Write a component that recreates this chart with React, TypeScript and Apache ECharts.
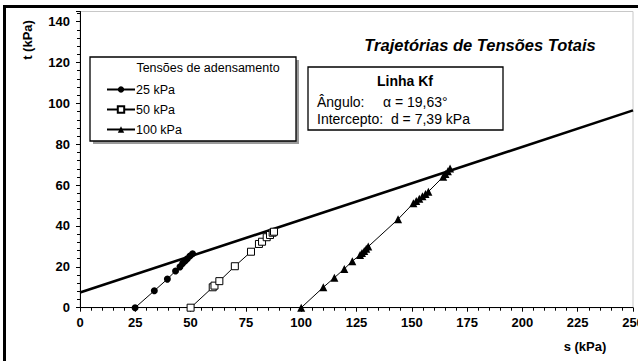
import React, { useEffect, useRef } from "react";
import * as echarts from "echarts";

// s (kPa), t (kPa) for each consolidation stress
const s25 = [24.9, 33.6, 39.5, 43.2, 45.2, 46.4, 47.5, 48.5, 49.7, 50.9];
const t25 = [0, 8.3, 14.0, 18.0, 20.0, 21.7, 22.9, 24.0, 25.3, 26.4];

const s50 = [50, 60.0, 60.8, 63, 70, 77.3, 80.9, 82.3, 84.4, 85.9, 87.1, 87.7];
const t50 = [0, 10.0, 10.8, 13, 20.3, 27.4, 31.2, 32.3, 34.5, 35.6, 36.7, 37.2];

const s100 = [100, 110, 115, 119.5, 123.1, 126.6, 127.5, 128.5, 129.4, 130.3, 143.8, 150.7, 152, 153.4, 154.8, 156.2, 157.5, 164.2, 165.2, 166.3, 167.3];
const t100 = [0, 10, 14.7, 19, 22.8, 25.8, 26.8, 27.8, 28.8, 29.9, 43.3, 51.1, 52.2, 53.3, 54.5, 55.6, 56.8, 64.1, 65.4, 66.8, 68.2];

// Kf line endpoints (d = 7.39 kPa, alpha = 19.63°)
const kfS = [0, 250];
const kfT = [7.39, 96.6];

const seriesNames = ["25 kPa", "50 kPa", "100 kPa"];
const xTicks = [0, 25, 50, 75, 100, 125, 150, 175, 200, 225, 250];
const yTicks = [0, 20, 40, 60, 80, 100, 120, 140];

const zip = (a: number[], b: number[]) => a.map((v, i) => [v, b[i]]);

export default function App() {
  const ref = useRef<HTMLDivElement>(null);
  useEffect(() => {
    if (!ref.current) return;
    const chart = echarts.init(ref.current, null, { renderer: "svg" });
    const axisFont = { fontFamily: "Arial", fontWeight: "bold" as const, fontSize: 13, color: "#000" };
    const boxFont = { fontFamily: "Liberation Sans, Arial", fontSize: 14, lineHeight: 15, fill: "#000", verticalAlign: "middle" as const };
    chart.setOption({
      animation: false,
      backgroundColor: "#fff",
      grid: {
        left: 80,
        top: 11.5,
        width: 553,
        height: 296.2,
        containLabel: false,
        outerBoundsMode: "none",
        show: true,
        borderColor: "#c8c8c8",
        borderWidth: 1,
        backgroundColor: "transparent",
      },
      xAxis: {
        type: "value",
        min: xTicks[0],
        max: xTicks[xTicks.length - 1],
        interval: 25,
        axisLine: { show: true, lineStyle: { color: "#000", width: 1 } },
        axisTick: { show: true, length: 4, lineStyle: { color: "#000" } },
        minorTick: { show: true, splitNumber: 5, length: 3, lineStyle: { color: "#000" } },
        splitLine: { show: false },
        axisLabel: { ...axisFont, margin: 8 },
      },
      yAxis: {
        type: "value",
        min: yTicks[0],
        max: 145,
        interval: 20,
        axisLine: { show: true, lineStyle: { color: "#000", width: 1 } },
        axisTick: { show: true, length: 4, lineStyle: { color: "#000" } },
        minorTick: { show: true, splitNumber: 5, length: 3, lineStyle: { color: "#000" } },
        splitLine: { show: false },
        axisLabel: {
          ...axisFont,
          margin: 10,
          formatter: (v: number) => (yTicks.includes(v) ? String(v) : ""),
        },
      },
      legend: {
        orient: "vertical",
        left: 106,
        top: 83,
        itemGap: 7,
        itemWidth: 28,
        itemHeight: 8,
        padding: 0,
        textStyle: { fontFamily: "Arial", fontSize: 12.5, color: "#000", padding: [0, 0, 0, -4] },
        data: seriesNames,
      },
      graphic: [
        { type: "line", shape: { x1: 4, y1: 6.5, x2: 640, y2: 6.5 }, style: { stroke: "#000", lineWidth: 3 }, silent: true, z: 100 },
        { type: "line", shape: { x1: 4.5, y1: 5, x2: 4.5, y2: 365 }, style: { stroke: "#000", lineWidth: 3 }, silent: true, z: 100 },
        { type: "rect", shape: { x: 93, y: 60, width: 206, height: 84 }, style: { fill: "#9a9a9a", stroke: "none" }, z: 0 },
        { type: "rect", shape: { x: 90, y: 57, width: 206, height: 84 }, style: { fill: "#fff", stroke: "#000", lineWidth: 1.3 }, z: 1 },
        { type: "text", x: 208, y: 68, style: { text: "Tensões de adensamento", fontFamily: "Arial", fontSize: 12.5, fill: "#000", align: "center", verticalAlign: "middle" }, z: 2 },
        { type: "rect", shape: { x: 308, y: 67, width: 195, height: 63 }, style: { fill: "#fff", stroke: "#000", lineWidth: 1.3 }, z: 1 },
        { type: "text", x: 405, y: 81, style: { ...boxFont, text: "Linha Kf", fontWeight: "bold", align: "center" }, z: 2 },
        { type: "text", x: 317, y: 102, style: { ...boxFont, text: "Ângulo:" } , z: 2 },
        { type: "text", x: 383, y: 102, style: { ...boxFont, text: "α = 19,63°" }, z: 2 },
        { type: "text", x: 317, y: 119, style: { ...boxFont, text: "Intercepto:  d = 7,39 kPa" }, z: 2 },
        { type: "text", x: 480, y: 45, style: { text: "Trajetórias de Tensões Totais", fontFamily: "Arial", fontWeight: "bold", fontStyle: "italic", fontSize: 16.5, fill: "#000", align: "center", verticalAlign: "middle" }, z: 2 },
        { type: "text", x: 27, y: 40, rotation: Math.PI / 2, style: { text: "t (kPa)", fontFamily: "Arial", fontWeight: "bold", fontSize: 13, fill: "#000", align: "center", verticalAlign: "middle" }, z: 2 },
        { type: "text", x: 585, y: 346, style: { text: "s (kPa)", fontFamily: "Arial", fontWeight: "bold", fontSize: 13, fill: "#000", align: "center", verticalAlign: "middle" }, z: 2 },
      ],
      series: [
        {
          name: "Kf",
          type: "line",
          data: zip(kfS, kfT),
          symbol: "none",
          lineStyle: { color: "#000", width: 2.6 },
          z: 2,
        },
        {
          name: seriesNames[0],
          type: "line",
          data: zip(s25, t25),
          symbol: "circle",
          symbolSize: 7,
          itemStyle: { color: "#000" },
          lineStyle: { color: "#000", width: 1 },
          z: 3,
        },
        {
          name: seriesNames[1],
          type: "line",
          data: zip(s50, t50),
          symbol: "rect",
          symbolSize: 7,
          itemStyle: { color: "#fff", borderColor: "#000", borderWidth: 1 },
          lineStyle: { color: "#000", width: 1 },
          z: 3,
        },
        {
          name: seriesNames[2],
          type: "line",
          data: zip(s100, t100),
          symbol: "triangle",
          symbolSize: 8,
          itemStyle: { color: "#000" },
          lineStyle: { color: "#000", width: 1 },
          z: 3,
        },
      ],
    });
    return () => chart.dispose();
  }, []);
  return (
    <div
      ref={ref}
      style={{ position: "fixed", left: 0, top: 0, width: 638, height: 361, background: "#fff" }}
    />
  );
}
